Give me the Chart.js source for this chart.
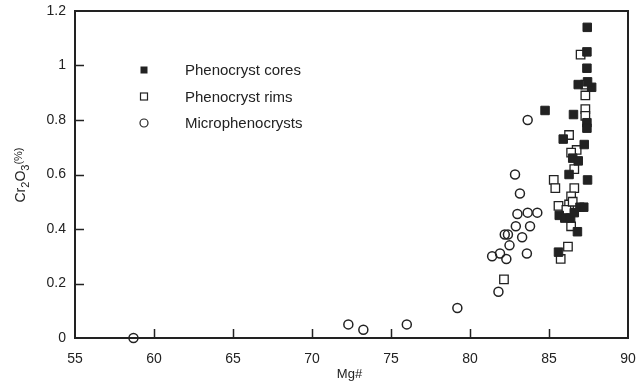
<!DOCTYPE html>
<html>
<head>
<meta charset="utf-8">
<script src="https://cdn.jsdelivr.net/npm/chart.js@4/dist/chart.umd.min.js"></script>
<style>
  html, body { margin: 0; padding: 0; background: #fff; }
  #wrap { width: 644px; height: 384px; }
</style>
</head>
<body>
<div id="wrap"><canvas id="cr-mg"></canvas></div>
<script>
// Mg# vs Cr2O3 (%) for the three spinel groups
const coresMg = [87.42, 87.4, 87.4, 86.85, 87.7, 87.44, 84.75, 86.55, 87.4, 87.4, 85.9, 87.23,
  86.5, 86.85, 86.27, 87.44, 86.96, 87.2, 85.65, 86.0, 86.37, 86.6, 86.8, 85.6];
const coresCr = [1.14, 1.05, 0.99, 0.93, 0.92, 0.94, 0.835, 0.82, 0.79, 0.77, 0.73, 0.71,
  0.66, 0.65, 0.60, 0.58, 0.48, 0.48, 0.45, 0.44, 0.44, 0.46, 0.39, 0.315];

const rimsMg = [87.0, 87.3, 87.3, 87.3, 87.3, 86.27, 86.75, 86.4, 86.6, 85.3, 85.4, 86.6,
  86.4, 86.27, 85.6, 86.1, 86.5, 86.4, 86.2, 85.74, 82.15];
const rimsCr = [1.04, 0.93, 0.89, 0.84, 0.815, 0.745, 0.69, 0.68, 0.62, 0.58, 0.55, 0.55,
  0.52, 0.49, 0.485, 0.47, 0.50, 0.41, 0.335, 0.29, 0.215];

const microMg = [58.7, 72.3, 73.25, 76.0, 79.2, 81.8, 81.4, 81.9, 82.3, 82.5, 82.2, 82.4,
  83.3, 82.9, 83.8, 83.0, 83.65, 84.26, 83.16, 82.85, 83.65, 83.6];
const microCr = [0, 0.05, 0.03, 0.05, 0.11, 0.17, 0.30, 0.31, 0.29, 0.34, 0.38, 0.38,
  0.37, 0.41, 0.41, 0.455, 0.46, 0.46, 0.53, 0.60, 0.80, 0.31];

const seriesNames = ['Phenocryst cores', 'Phenocryst rims', 'Microphenocrysts'];
const xTicks = [55, 60, 65, 70, 75, 80, 85, 90];
const yTicks = [0, 0.2, 0.4, 0.6, 0.8, 1, 1.2];

const ink = '#222';
const fontFamily = '"Liberation Sans", Arial, Helvetica, sans-serif';

function zip(xs, ys) {
  return xs.map((x, i) => ({ x: x, y: ys[i] }));
}

// frame, inward ticks, axis titles and the inset key
const decorations = {
  id: 'decorations',
  afterDraw(chart) {
    const ctx = chart.ctx;
    const area = chart.chartArea;
    const xs = chart.scales.x;
    const ys = chart.scales.y;
    ctx.save();
    ctx.strokeStyle = ink;
    ctx.lineWidth = 2;
    ctx.strokeRect(area.left, area.top, area.right - area.left, area.bottom - area.top);

    ctx.lineWidth = 1.5;
    ctx.beginPath();
    xTicks.slice(1, -1).forEach(v => {
      const px = Math.round(xs.getPixelForValue(v)) + 0.5;
      ctx.moveTo(px, area.bottom);
      ctx.lineTo(px, area.bottom - 9);
    });
    yTicks.slice(1, -1).forEach(v => {
      const py = Math.round(ys.getPixelForValue(v)) + 0.5;
      ctx.moveTo(area.left, py);
      ctx.lineTo(area.left + 9, py);
    });
    ctx.stroke();

    ctx.fillStyle = ink;
    ctx.font = '13px ' + fontFamily;
    ctx.textAlign = 'center';
    ctx.textBaseline = 'middle';
    ctx.fillText('Mg#', (area.left + area.right) / 2 - 2, 374);

    // Cr2O3(%) with subscripts, rotated
    ctx.save();
    ctx.translate(21, 175);
    ctx.rotate(-Math.PI / 2);
    const parts = [['Cr', 14, 0], ['2', 11, 5], ['O', 14, 0], ['3', 11, 5], ['(%)', 11, -2]];
    let total = 0;
    parts.forEach(p => { ctx.font = p[1] + 'px ' + fontFamily; total += ctx.measureText(p[0]).width; });
    let cx = -total / 2;
    ctx.textAlign = 'left';
    parts.forEach(p => {
      ctx.font = p[1] + 'px ' + fontFamily;
      ctx.fillText(p[0], cx, p[2]);
      cx += ctx.measureText(p[0]).width;
    });
    ctx.restore();

    // key
    const rows = [70, 96.5, 123];
    ctx.font = '15px ' + fontFamily;
    ctx.textAlign = 'left';
    ctx.lineWidth = 1.2;
    rows.forEach((ry, i) => {
      const mx = 144;
      if (i === 0) {
        ctx.fillRect(mx - 3.5, ry - 3.5, 7, 7);
      } else if (i === 1) {
        ctx.strokeRect(mx - 3.5, ry - 3.5, 7, 7);
      } else {
        ctx.beginPath();
        ctx.arc(mx, ry, 4, 0, Math.PI * 2);
        ctx.stroke();
      }
      ctx.fillText(seriesNames[i], 185, ry + 1);
    });
    ctx.restore();
  }
};

new Chart('cr-mg', {
  type: 'scatter',
  data: {
    datasets: [
      {
        label: seriesNames[0],
        data: zip(coresMg, coresCr),
        pointStyle: 'rect',
        pointRadius: 6,
        backgroundColor: ink,
        borderColor: ink,
        borderWidth: 1
      },
      {
        label: seriesNames[1],
        data: zip(rimsMg, rimsCr),
        pointStyle: 'rect',
        pointRadius: 6,
        backgroundColor: '#fff',
        borderColor: ink,
        borderWidth: 1.3
      },
      {
        label: seriesNames[2],
        data: zip(microMg, microCr),
        pointStyle: 'circle',
        pointRadius: 4.5,
        backgroundColor: 'rgba(255,255,255,0)',
        borderColor: ink,
        borderWidth: 1.5
      }
    ]
  },
  options: {
    responsive: true,
    maintainAspectRatio: false,
    animation: false,
    clip: false,
    layout: { padding: { left: 0, top: 11, right: 16, bottom: 0 } },
    plugins: {
      legend: { display: false },
      tooltip: { enabled: false }
    },
    scales: {
      x: {
        type: 'linear',
        min: 55,
        max: 90,
        afterBuildTicks: s => { s.ticks = xTicks.map(v => ({ value: v })); },
        afterFit: s => { s.height = 46; s.paddingLeft = 0; s.paddingRight = 0; },
        ticks: { color: ink, font: { family: fontFamily, size: 14 }, padding: 13, maxRotation: 0 },
        grid: { display: false, drawTicks: false },
        border: { display: false }
      },
      y: {
        min: 0,
        max: 1.2,
        afterBuildTicks: s => { s.ticks = yTicks.map(v => ({ value: v })); },
        afterFit: s => { s.width = 75; s.paddingTop = 0; s.paddingBottom = 0; },
        ticks: {
          color: ink,
          font: { family: fontFamily, size: 14 },
          padding: 9,
          callback: v => String(v)
        },
        grid: { display: false, drawTicks: false },
        border: { display: false }
      }
    }
  },
  plugins: [decorations]
});
</script>
</body>
</html>
